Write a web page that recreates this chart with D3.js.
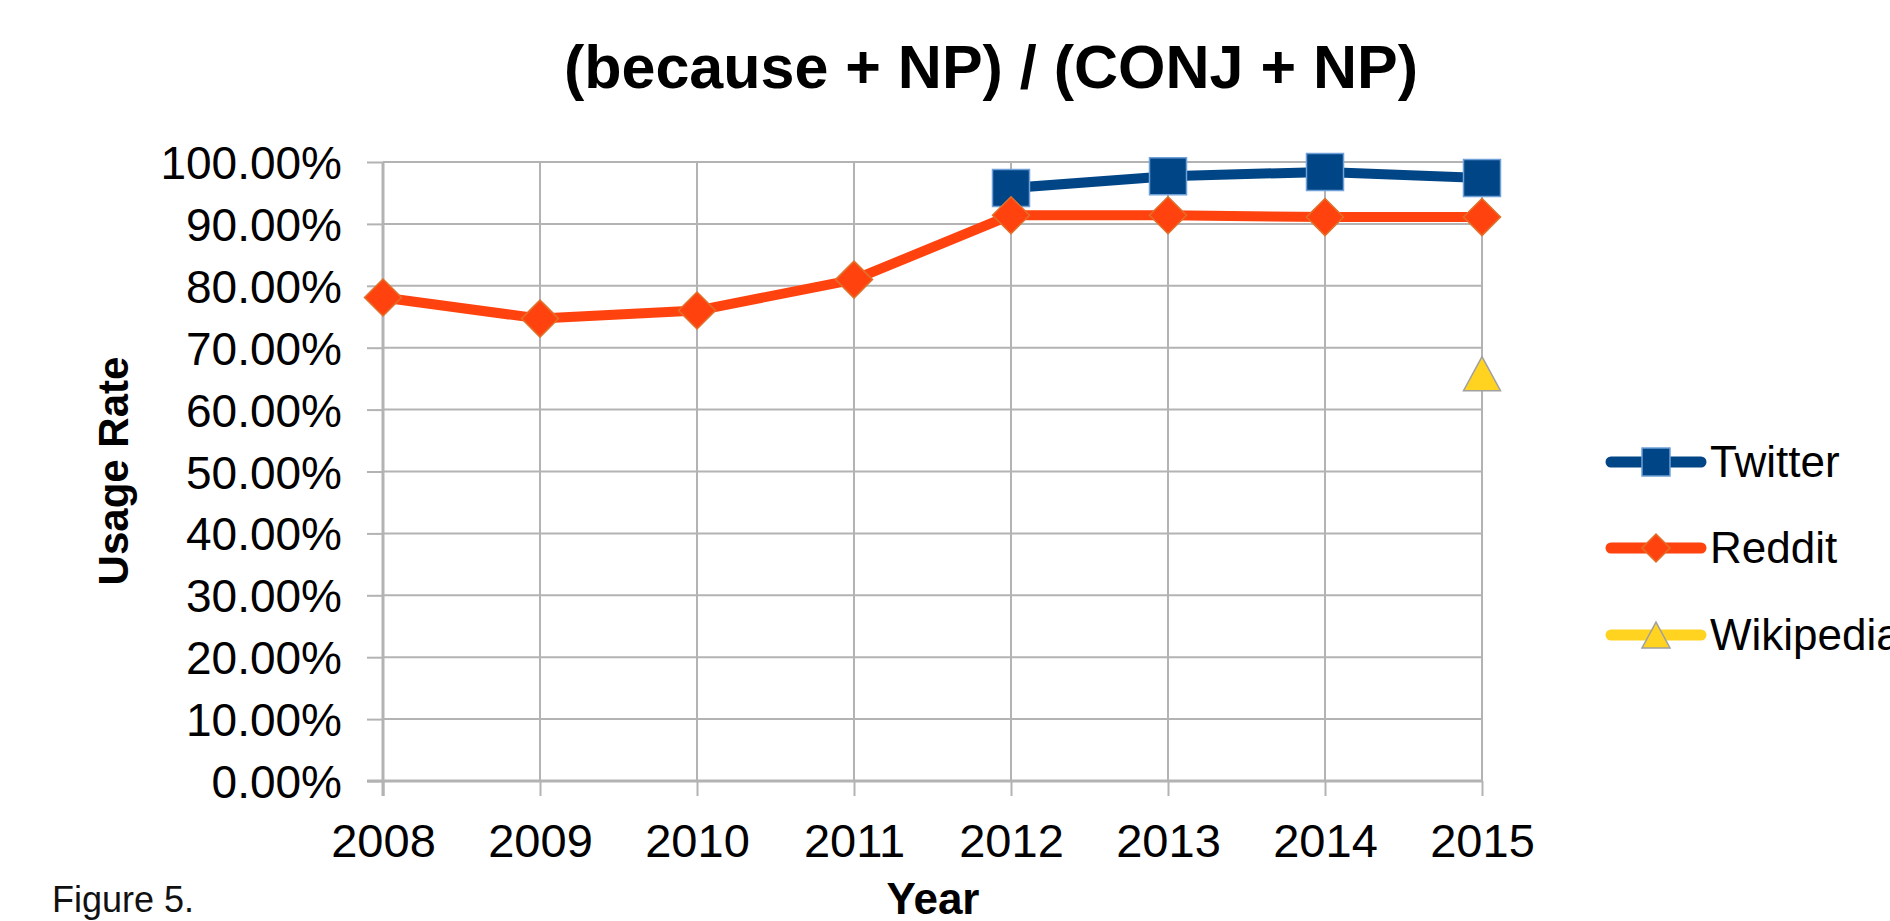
<!DOCTYPE html>
<html>
<head>
<meta charset="utf-8">
<script src="https://cdn.jsdelivr.net/npm/d3@7"></script>
<style>
  html, body { margin: 0; padding: 0; background: #fff; overflow: hidden; }
  svg { display: block; }
  text { font-family: "Liberation Sans", Arial, sans-serif; fill: #000; }
</style>
</head>
<body>
<div id="chart"></div>
<script>
// (because + NP) / (CONJ + NP) — usage rate by year

const years = [2008, 2009, 2010, 2011, 2012, 2013, 2014, 2015];
const twitter   = [null, null, null, null, 0.958, 0.977, 0.984, 0.974];
const reddit    = [0.781, 0.747, 0.760, 0.810, 0.914, 0.914, 0.911, 0.911];
const wikipedia = [null, null, null, null, null, null, null, 0.658];
const yTicks = [0, 0.1, 0.2, 0.3, 0.4, 0.5, 0.6, 0.7, 0.8, 0.9, 1.0];

const SERIES = [
  { name: "Twitter",   values: twitter,   color: "#004586", border: "#6fa0d8", symbol: "square" },
  { name: "Reddit",    values: reddit,    color: "#ff420e", border: "#e0702a", symbol: "diamond" },
  { name: "Wikipedia", values: wikipedia, color: "#ffd320", border: "#a0a0a0", symbol: "triangle" }
];

const width = 1890;
const height = 921;

const svg = d3.select("#chart")
  .append("svg")
  .attr("width", width)
  .attr("height", height);

const x = d3.scalePoint().domain(years).range([383, 1482]);
const y = d3.scaleLinear().domain([0, 1]).range([781, 162]);

// marker path, centred on 0,0
function markerPath(symbol, size) {
  const h = size / 2;
  if (symbol === "diamond") {
    return `M0,${-h}L${h},0L0,${h}L${-h},0Z`;
  }
  if (symbol === "triangle") {
    const t = size * 0.92;
    return `M0,${-t / 2}L${h},${t / 2}L${-h},${t / 2}Z`;
  }
  return `M${-h},${-h}H${h}V${h}H${-h}Z`;
}

// Titre
svg.append("text")
  .attr("x", 991)
  .attr("y", 88)
  .attr("text-anchor", "middle")
  .style("font-size", "61px")
  .style("font-weight", "bold")
  .text("(because + NP) / (CONJ + NP)");

// Grille
const grid = svg.append("g");
grid.selectAll("line.h")
  .data(yTicks)
  .join("line")
  .attr("class", "h")
  .attr("x1", x(years[0]))
  .attr("x2", x(years[years.length - 1]))
  .attr("y1", d => y(d))
  .attr("y2", d => y(d))
  .attr("stroke", "#b3b3b3")
  .attr("stroke-width", 2);

grid.selectAll("line.v")
  .data(years)
  .join("line")
  .attr("class", "v")
  .attr("x1", d => x(d))
  .attr("x2", d => x(d))
  .attr("y1", y(1))
  .attr("y2", y(0))
  .attr("stroke", "#b3b3b3")
  .attr("stroke-width", 2);

// Axes
const yAxis = svg.append("g")
  .attr("transform", `translate(${x(years[0])},0)`)
  .call(d3.axisLeft(y).tickValues(yTicks).tickFormat(d3.format(".2%")).tickSize(16).tickPadding(25));

const xAxis = svg.append("g")
  .attr("transform", `translate(0,${y(0)})`)
  .call(d3.axisBottom(x).tickSize(15).tickPadding(28));

[yAxis, xAxis].forEach(ax => {
  ax.select(".domain").attr("stroke", "#b3b3b3").attr("stroke-width", 3);
  ax.selectAll(".tick line").attr("stroke", "#b3b3b3").attr("stroke-width", 2);
  ax.selectAll(".tick text")
    .attr("fill", "#000")
    .style("font-family", "'Liberation Sans', Arial, sans-serif");
});
yAxis.select(".domain").attr("d", `M0,${y(1)}V${y(0) + 15}`);
xAxis.select(".domain").attr("d", `M${x(years[0]) - 16},0H${x(years[years.length - 1])}`);
yAxis.selectAll(".tick text").style("font-size", "46px").attr("dy", "0.36em");
xAxis.selectAll(".tick text").style("font-size", "47px").attr("dy", "0.71em");

// Titres d'axes
svg.append("text")
  .attr("x", 933)
  .attr("y", 914)
  .attr("text-anchor", "middle")
  .style("font-size", "44px")
  .style("font-weight", "bold")
  .text("Year");

svg.append("text")
  .attr("transform", "translate(128,471) rotate(-90)")
  .attr("text-anchor", "middle")
  .style("font-size", "42px")
  .style("font-weight", "bold")
  .text("Usage Rate");

svg.append("text")
  .attr("x", 52)
  .attr("y", 912)
  .style("font-size", "36px")
  .style("fill", "#111")
  .text("Figure 5.");

// Séries
const line = d3.line()
  .defined(d => d.v != null)
  .x(d => x(d.year))
  .y(d => y(d.v));

SERIES.forEach(s => {
  const pts = years.map((yr, i) => ({ year: yr, v: s.values[i] }));
  svg.append("path")
    .datum(pts)
    .attr("d", line)
    .attr("fill", "none")
    .attr("stroke", s.color)
    .attr("stroke-width", 10)
    .attr("stroke-linejoin", "round");
});

SERIES.forEach(s => {
  const pts = years.map((yr, i) => ({ year: yr, v: s.values[i] })).filter(d => d.v != null);
  svg.append("g")
    .selectAll("path")
    .data(pts)
    .join("path")
    .attr("transform", d => `translate(${x(d.year)},${y(d.v)})`)
    .attr("d", markerPath(s.symbol, 37))
    .attr("fill", s.color)
    .attr("stroke", s.border)
    .attr("stroke-width", 1.5);
});

// Légende
const legend = svg.append("g");
const legendY = [462, 548, 635];
SERIES.forEach((s, i) => {
  const g = legend.append("g").attr("transform", `translate(0,${legendY[i]})`);
  g.append("line")
    .attr("x1", 1611)
    .attr("x2", 1701)
    .attr("y1", 0)
    .attr("y2", 0)
    .attr("stroke", s.color)
    .attr("stroke-width", 11)
    .attr("stroke-linecap", "round");
  g.append("path")
    .attr("transform", "translate(1656,0)")
    .attr("d", markerPath(s.symbol, 28))
    .attr("fill", s.color)
    .attr("stroke", s.border)
    .attr("stroke-width", 1.5);
  g.append("text")
    .attr("x", 1710)
    .attr("y", 0)
    .attr("dy", "0.35em")
    .style("font-size", "44px")
    .text(s.name);
});
</script>
</body>
</html>
